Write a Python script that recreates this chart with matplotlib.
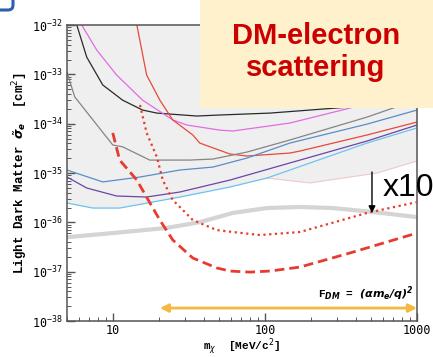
import matplotlib
matplotlib.use('Agg')
import matplotlib.pyplot as plt
from matplotlib.patches import Rectangle, FancyBboxPatch

# ---------------- data ----------------
black_m = [5.5, 5.8, 6.74, 8.59, 11.6, 15.7, 19.5, 35.7, 50.6, 108, 362, 1000]
black_s = [1.6e-32, 1.0e-32, 2.24e-33, 6.1e-34, 3.0e-34, 1.89e-34, 1.64e-34, 1.43e-34, 1.5e-34, 1.64e-34, 2.18e-34, 3.0e-34]

magenta_m = [5.9, 6.25, 7.85, 10.6, 15.7, 24.8, 30.7, 50.6, 61.5, 146, 362, 1000]
magenta_s = [1.5e-32, 1.0e-32, 3.1e-33, 9.7e-34, 3.0e-34, 1.19e-34, 9.4e-35, 7.4e-35, 7.1e-35, 1.03e-34, 2.07e-34, 6.0e-34]

red_m = [14.0, 14.4, 16.7, 20.4, 24.8, 33.6, 37.3, 58.9, 76.2, 146, 170, 469, 1000]
red_s = [1.5e-32, 1.0e-32, 9.7e-34, 3.0e-34, 1.19e-34, 5.9e-35, 4.05e-35, 2.43e-35, 2.21e-35, 2.54e-35, 2.79e-35, 5.9e-35, 1.08e-34]

gray_m = [5.0, 5.62, 10, 11.6, 17.5, 32.1, 45.5, 76.2, 146, 469, 695, 1000]
gray_s = [1.11e-33, 3.5e-34, 3.7e-35, 3.4e-35, 1.83e-35, 1.83e-35, 1.92e-35, 2.66e-35, 4.67e-35, 1.36e-34, 2.07e-34, 2.9e-34]

steel_m = [5.0, 8.59, 15.1, 27.6, 45.5, 76.2, 146, 469, 1000]
steel_s = [1.15e-35, 6.6e-36, 8.3e-36, 1.15e-35, 1.32e-35, 2.01e-35, 4.05e-35, 9.8e-35, 1.89e-34]

purple_m = [5.0, 6.74, 10.6, 16.7, 27.6, 58.9, 146, 469, 1000]
purple_s = [8.3e-36, 4.97e-36, 3.42e-36, 3.26e-36, 4.12e-36, 7.2e-36, 1.6e-35, 4.45e-35, 9.4e-35]

lightblue_m = [5.0, 7.38, 11.1, 18.3, 27.6, 58.9, 103, 146, 469, 1000]
lightblue_s = [2.47e-36, 1.95e-36, 1.95e-36, 2.58e-36, 3.26e-36, 5.2e-36, 7.9e-36, 1.15e-35, 4.05e-35, 8.2e-35]

pink_m = [103, 198, 546, 1000]
pink_s = [7.9e-36, 6.3e-36, 1.0e-35, 1.75e-35]

band_m = [5.0, 10, 22.6, 37.3, 61.5, 103, 170, 280, 514, 1000]
band_s = [5.0e-37, 6.07e-37, 7.7e-37, 1.01e-36, 1.55e-36, 1.95e-36, 2.05e-36, 1.95e-36, 1.62e-36, 1.28e-36]

dashed_m = [10, 11.1, 14.4, 15.7, 20.4, 24.8, 33.6, 48.3, 58.9, 79.6, 108, 170, 362, 1000]
dashed_s = [6.5e-35, 1.83e-35, 7.2e-36, 4.5e-36, 1.11e-36, 4.39e-37, 1.89e-37, 1.19e-37, 1.03e-37, 9.8e-38, 1.03e-37, 1.24e-37, 2.39e-37, 6.07e-37]

dotted_m = [15.1, 16.7, 19.5, 21.3, 24.8, 27.6, 33.6, 48.3, 61.5, 92.7, 170, 469, 1000]
dotted_s = [2.39e-34, 6.5e-35, 2.11e-35, 7.2e-36, 2.83e-36, 2.05e-36, 1.11e-36, 6.98e-37, 6.37e-37, 5.53e-37, 6.37e-37, 1.55e-36, 2.58e-36]

x10_mass = 506
x10_from, x10_to = 1.05e-35, 1.55e-36
range_from, range_to, range_sigma = 20.4, 1000, 1.83e-38

xticks = [10, 100, 1000]
xtick_labels = ['10', '100', '1000']
yticks = [1e-38, 1e-37, 1e-36, 1e-35, 1e-34, 1e-33, 1e-32]

# ---------------- figure ----------------
fig = plt.figure(figsize=(4.33, 3.57), dpi=100)
ax = fig.add_axes([0.1547, 0.1008, 0.8083, 0.8291])
ax.set_xscale('log')
ax.set_yscale('log')
ax.set_xlim(5, 1000)
ax.set_ylim(1e-38, 1e-32)

# shaded excluded region
floor_m = [m for m in lightblue_m if m < 103] + pink_m
floor_s = [s for m, s in zip(lightblue_m, lightblue_s) if m < 103] + pink_s
ax.fill_between(floor_m, floor_s, 1e-31, color='#efefef', lw=0, zorder=0)
ax.plot(pink_m, pink_s, color='#f3c9c9', lw=0.8, zorder=1)

lw = 0.9
ax.plot(black_m, black_s, color='#2a2a2a', lw=lw, zorder=2)
ax.plot(magenta_m, magenta_s, color='#e26be6', lw=lw, zorder=2)
ax.plot(red_m, red_s, color='#e8483a', lw=lw, zorder=2)
ax.plot(gray_m, gray_s, color='#858585', lw=lw, zorder=2)
ax.plot(steel_m, steel_s, color='#5a8cc6', lw=lw, zorder=2)
ax.plot(purple_m, purple_s, color='#6b46a6', lw=lw, zorder=2)
ax.plot(lightblue_m, lightblue_s, color='#6ec3ee', lw=lw, zorder=2)

ax.plot(band_m, band_s, color='#d4d4d4', lw=3.0, solid_capstyle='butt', zorder=2)
ax.plot(dashed_m, dashed_s, color='#e83a2e', lw=2.0, dashes=(3.5, 1.8), zorder=3)
ax.plot(dotted_m, dotted_s, color='#e83a2e', lw=1.6, dashes=(1, 1.6), zorder=3)

# x10 arrow
ax.annotate('', xy=(x10_mass, x10_to), xytext=(x10_mass, x10_from),
            arrowprops=dict(arrowstyle='-|>', color='black', lw=1.0,
                            mutation_scale=10, shrinkA=0, shrinkB=0), zorder=5)
ax.text(597, 5e-36, 'x10', fontsize=23, family='Liberation Sans',
        ha='left', va='center', clip_on=False, zorder=6)

# orange range arrow
ax.annotate('', xy=(range_to, range_sigma), xytext=(range_from, range_sigma),
            arrowprops=dict(arrowstyle='<|-|>', color='#F5B941', lw=2.0,
                            mutation_scale=12, shrinkA=0, shrinkB=0), zorder=5,
            annotation_clip=False)
ax.text(942, 3.5e-38, r'F$_{\mathbfit{DM}}$ = $\mathbfit{(\alpha m_e/q)^2}$',
        fontsize=8, weight='bold', family='Liberation Mono', ha='right', va='center')

# axes styling
for sp in ax.spines.values():
    sp.set_color('#555555')
    sp.set_linewidth(1.1)
ax.tick_params(which='both', direction='in', top=False, right=False,
               colors='#555555', labelcolor='black', labelsize=8.5)
ax.tick_params(which='major', length=6, width=1.0)
ax.tick_params(which='minor', length=3, width=0.7)
ax.tick_params(axis='y', pad=3)
ax.tick_params(axis='x', pad=2)
ax.set_xticks(xticks)
ax.set_xticklabels(xtick_labels)
ax.set_yticks(yticks)
for lab in ax.get_xticklabels() + ax.get_yticklabels():
    lab.set_family('DejaVu Sans Mono')

ax.set_ylabel(r'Light Dark Matter $\tilde{\mathbfit{\sigma}}_{\mathbfit{e}}$  [cm$^2$]',
              fontsize=9, family='Liberation Mono', weight='bold')
ax.yaxis.set_label_coords(-0.105, 0.5)
ax.set_xlabel(r'm$_\chi$  [MeV/c$^2$]', fontsize=8, family='Liberation Mono', weight='bold')
ax.xaxis.set_label_coords(0.5, -0.052)

# title box
fig.add_artist(Rectangle((200 / 433, 1 - 108 / 357), 240 / 433, 110 / 357,
                         transform=fig.transFigure, facecolor='#FEF1CB',
                         edgecolor='none', zorder=10))
fig.text(316 / 433, 1 - 52 / 357, 'DM-electron\nscattering', ha='center', va='center',
         fontsize=21, weight='bold', color='#CC0000', family='Liberation Sans',
         linespacing=1.15, zorder=11)

# small blue corner icon
fig.add_artist(FancyBboxPatch((-0.3, 3.47), 0.43, 0.5,
                              boxstyle='round,pad=0,rounding_size=0.05',
                              transform=fig.dpi_scale_trans, facecolor='white',
                              edgecolor='#2b5fb4', lw=2.2, zorder=10))

fig.savefig('out.png', dpi=100)
